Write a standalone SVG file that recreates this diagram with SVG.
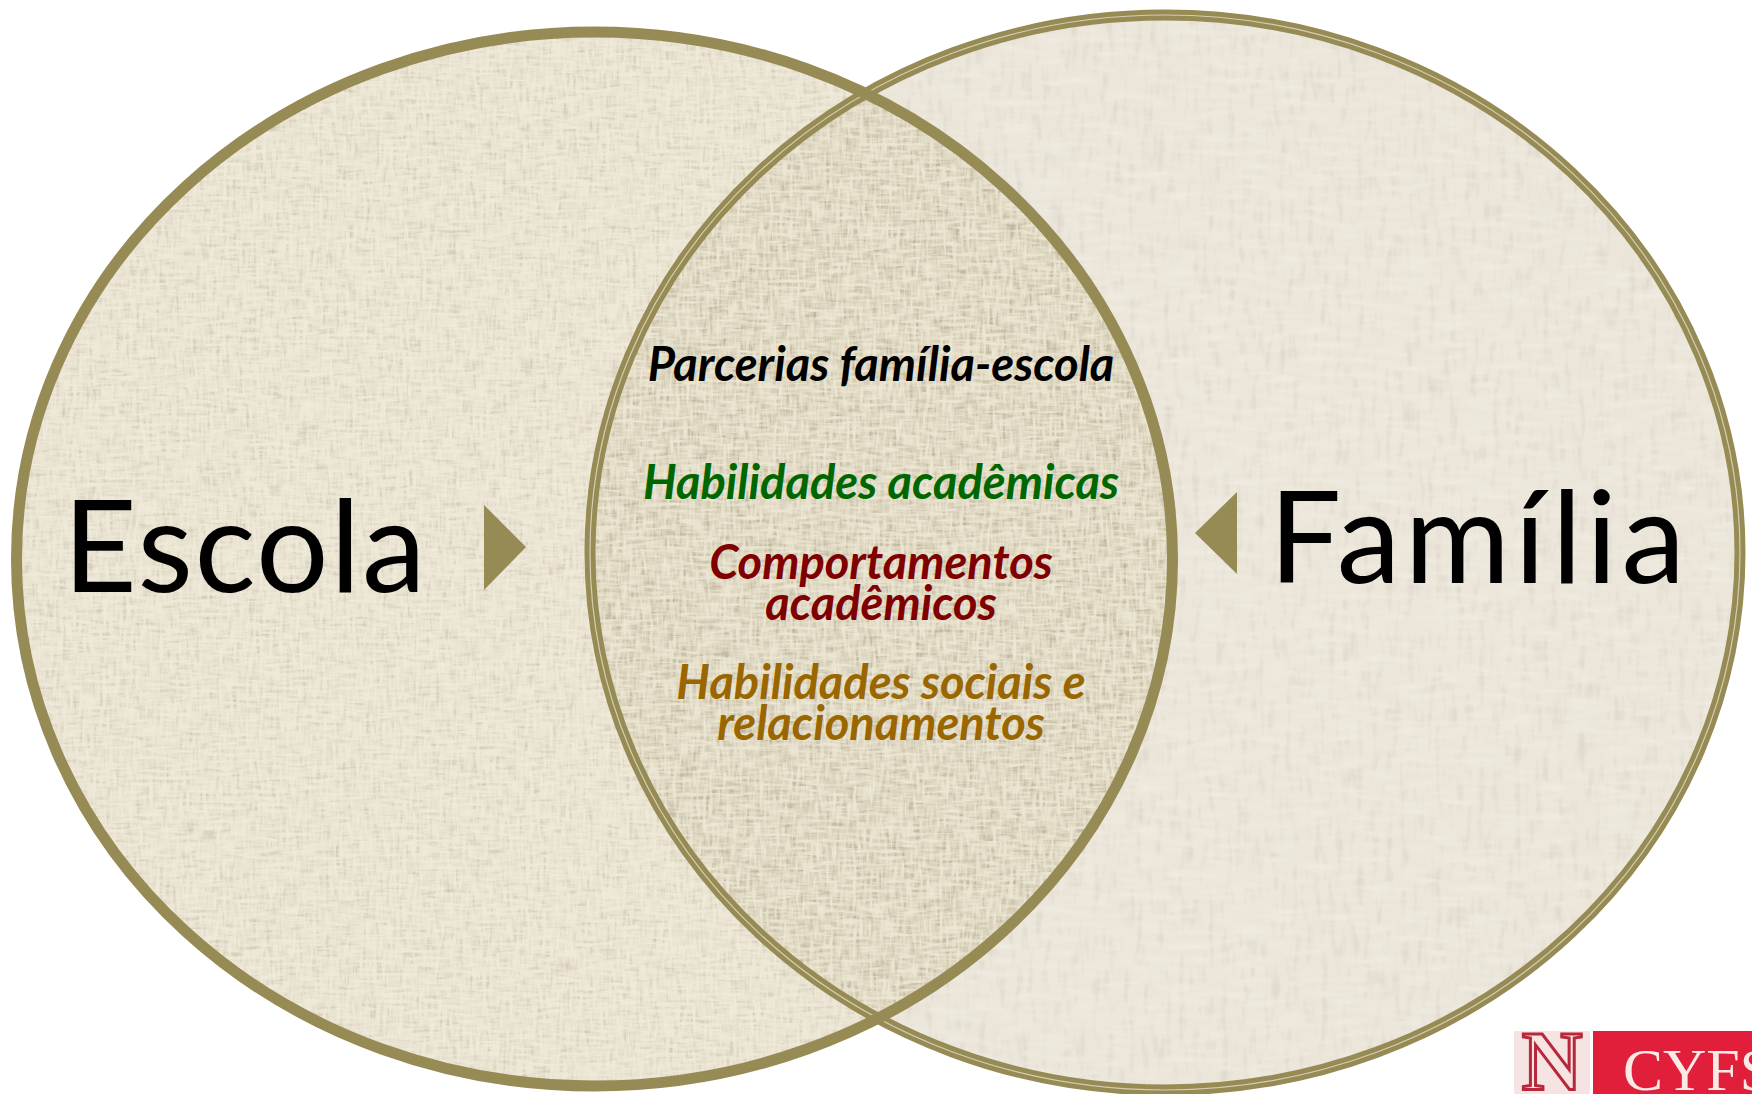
<svg xmlns="http://www.w3.org/2000/svg" width="1752" height="1094" viewBox="0 0 1752 1094">
<style>
.ring{fill:none;stroke:#968b54;stroke-width:11}
.hair{fill:none;stroke:#efe9d8;stroke-width:1.2;opacity:.7}
.big{font-family:"Lato","Carlito","Liberation Sans",sans-serif;font-size:128px;fill:#000}
.mid{font-family:"Lato","Carlito","Liberation Sans",sans-serif;font-size:47px;font-weight:700;font-style:italic;text-anchor:middle}
.tri{fill:#968b54}
</style>
<defs>
<filter id="weaveFine" x="0" y="0" width="100%" height="100%" color-interpolation-filters="sRGB">
<feTurbulence type="fractalNoise" baseFrequency="0.3 0.045" numOctaves="2" seed="4" result="a"/>
<feColorMatrix in="a" type="matrix" values="0 0 0 0 .60 0 0 0 0 .54 0 0 0 0 .44 2.4 0 0 0 -1.2" result="a1"/>
<feTurbulence type="fractalNoise" baseFrequency="0.045 0.3" numOctaves="2" seed="9" result="b"/>
<feColorMatrix in="b" type="matrix" values="0 0 0 0 .60 0 0 0 0 .54 0 0 0 0 .44 2.4 0 0 0 -1.2" result="b1"/>
<feTurbulence type="fractalNoise" baseFrequency="0.3 0.05" numOctaves="2" seed="21" result="c"/>
<feColorMatrix in="c" type="matrix" values="0 0 0 0 1 0 0 0 0 .99 0 0 0 0 .93 2.6 0 0 0 -1.0" result="c1"/>
<feTurbulence type="fractalNoise" baseFrequency="0.05 0.3" numOctaves="2" seed="27" result="d"/>
<feColorMatrix in="d" type="matrix" values="0 0 0 0 1 0 0 0 0 .99 0 0 0 0 .93 2.6 0 0 0 -1.0" result="d1"/>
<feMerge><feMergeNode in="a1"/><feMergeNode in="b1"/><feMergeNode in="c1"/><feMergeNode in="d1"/></feMerge>
</filter>
<filter id="weaveSoft" x="0" y="0" width="100%" height="100%" color-interpolation-filters="sRGB">
<feTurbulence type="fractalNoise" baseFrequency="0.14 0.03" numOctaves="2" seed="14" result="a"/>
<feColorMatrix in="a" type="matrix" values="0 0 0 0 .70 0 0 0 0 .65 0 0 0 0 .57 1.9 0 0 0 -0.95" result="a1"/>
<feTurbulence type="fractalNoise" baseFrequency="0.03 0.14" numOctaves="2" seed="31" result="b"/>
<feColorMatrix in="b" type="matrix" values="0 0 0 0 1 0 0 0 0 1 0 0 0 0 .96 2 0 0 0 -0.8" result="b1"/>
<feMerge><feMergeNode in="a1"/><feMergeNode in="b1"/></feMerge>
</filter>
<clipPath id="clipL"><ellipse cx="594.5" cy="559" rx="578" ry="527"/></clipPath>
<clipPath id="clipR"><ellipse cx="1165" cy="552.5" rx="575" ry="537.5"/></clipPath>
<clipPath id="clipLensL"><ellipse cx="598" cy="559" rx="580" ry="527"/></clipPath>
<clipPath id="clipLensR"><ellipse cx="1165" cy="552.5" rx="579" ry="539"/></clipPath>
</defs>
<rect width="1752" height="1094" fill="#fff"/>
<g id="familia-circle">
<g clip-path="url(#clipR)"><rect x="585" y="10" width="1165" height="1084" fill="#ebe5da"/><rect x="585" y="10" width="1165" height="1084" filter="url(#weaveSoft)" opacity=".28"/></g>
</g>
<g id="escola-circle">
<g clip-path="url(#clipL)"><rect x="10" y="26" width="1170" height="1068" fill="#e8e1d0"/><rect x="10" y="26" width="1170" height="1068" filter="url(#weaveFine)" opacity=".32"/></g>
</g>
<g id="overlap">
<g clip-path="url(#clipLensL)"><g clip-path="url(#clipLensR)"><rect x="580" y="60" width="600" height="980" fill="#d9d1ba"/><rect x="580" y="60" width="600" height="980" filter="url(#weaveFine)" opacity=".5"/></g></g>
</g>
<g id="connectors">
<ellipse class="ring" cx="1165" cy="552.5" rx="575" ry="537.5"/>
<ellipse class="hair" cx="1165" cy="552.5" rx="575" ry="537.5"/>
<ellipse class="ring" cx="594.5" cy="559" rx="578" ry="527"/>
<path class="tri" d="M484 505L526 547L484 590Z"/>
<path class="tri" d="M1237 492L1195 533L1237 574Z"/>
</g>
<g id="escola-label"><text class="big" x="63" y="592" letter-spacing="1.6">Escola</text></g>
<g id="familia-label"><text class="big" x="1269" y="583" letter-spacing="4.4">Família</text></g>
<g id="overlap-labels">
<text class="mid" x="881" y="381" fill="#000">Parcerias família-escola</text>
<text class="mid" x="881" y="499" fill="#006600">Habilidades acadêmicas</text>
<text class="mid" fill="#7f0000"><tspan x="881" y="579">Comportamentos</tspan><tspan x="881" y="620">acadêmicos</tspan></text>
<text class="mid" fill="#996600"><tspan x="881" y="699">Habilidades sociais e</tspan><tspan x="881" y="740">relacionamentos</tspan></text>
</g>
<g id="logo">
<rect x="1514" y="1031" width="76" height="63" fill="#f6e4e2"/>
<rect x="1593" y="1031" width="159" height="63" fill="#e21f3b"/>
<text x="1552" y="1090" text-anchor="middle" font-family="Liberation Serif,serif" font-weight="700" font-size="84" fill="#f6e4e2" stroke="#b8283c" stroke-width="3">N</text>
<text x="1623" y="1090" font-family="Liberation Serif,serif" font-size="60" fill="#fbe9e6">CYFS</text>
</g>
</svg>
